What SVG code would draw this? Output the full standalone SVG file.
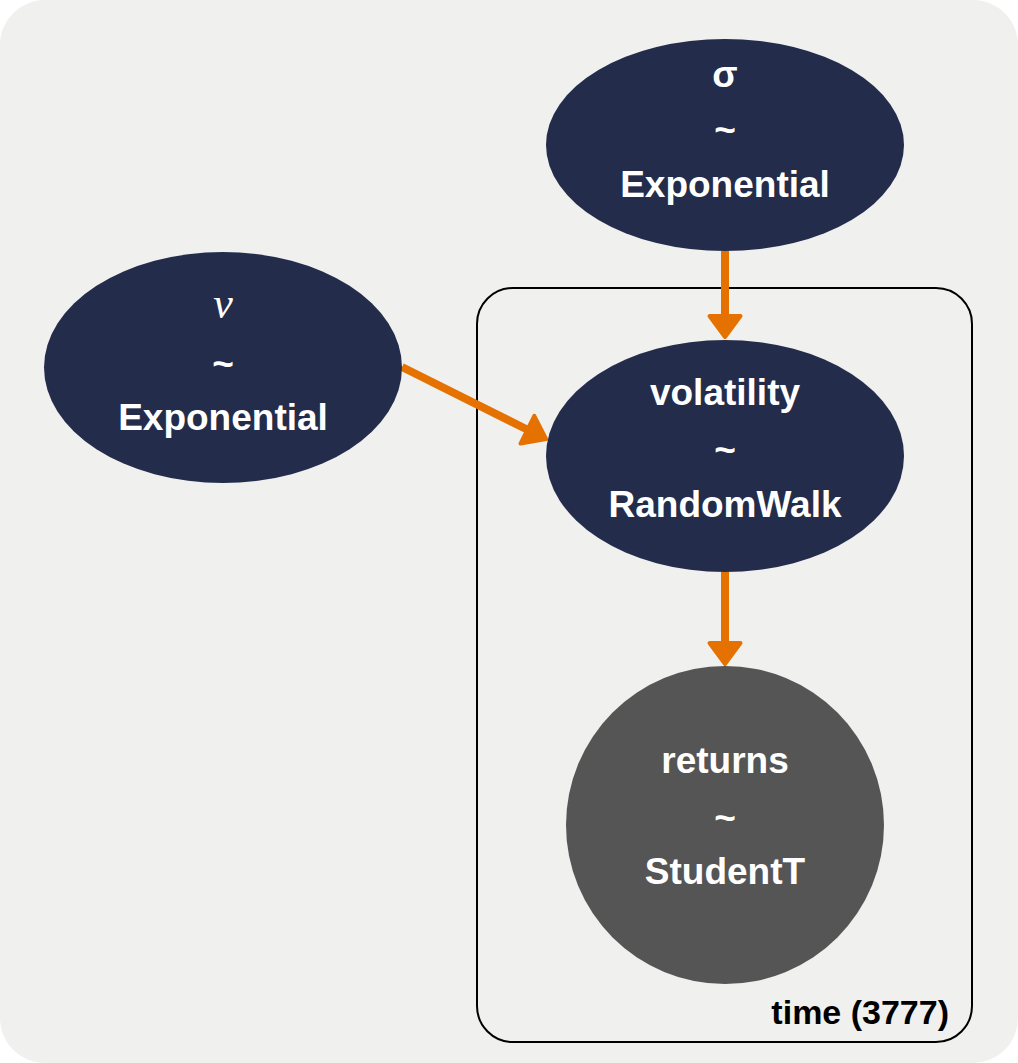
<svg xmlns="http://www.w3.org/2000/svg" width="1018" height="1063" viewBox="0 0 1018 1063">
  <style>
    .bg { fill: #f0f0ee; }
    .rv { fill: #232d4b; }
    .obs { fill: #555555; }
    .plate { fill: none; stroke: #000000; stroke-width: 2; }
    .lbl { font-family: "Liberation Sans", Arial, sans-serif; font-weight: bold; font-size: 37px; fill: #ffffff; text-anchor: middle; }
    .math { font-family: "Liberation Serif", "Times New Roman", serif; font-style: italic; font-weight: normal; font-size: 44px; fill: #ffffff; text-anchor: middle; }
    .plbl { font-family: "Liberation Sans", Arial, sans-serif; font-weight: bold; font-size: 34px; fill: #000000; text-anchor: end; }
    .edge { stroke: #e57200; stroke-width: 8; fill: none; }
    .head { fill: #e57200; stroke: #e57200; stroke-width: 4; stroke-linejoin: round; }
  </style>
  <rect class="bg" x="0" y="0" width="1018" height="1063" rx="45" ry="45"/>

  <g id="plate-time">
    <rect class="plate" x="477" y="288" width="495" height="754" rx="36" ry="36"/>
    <text class="plbl" x="949" y="1024">time (3777)</text>
  </g>

  <g id="connectors">
    <line class="edge" x1="725" y1="251" x2="725" y2="318"/>
    <polygon class="head" points="709.5,316 740.5,316 725,337"/>
    <line class="edge" x1="725" y1="572" x2="725" y2="645"/>
    <polygon class="head" points="709.5,643 740.5,643 725,664"/>
    <line class="edge" x1="402" y1="367" x2="529" y2="430.5"/>
    <polygon class="head" points="520.5,443.6 534.3,415.8 546.2,439.1"/>
  </g>

  <g id="node-sigma">
    <ellipse class="rv" cx="725" cy="145" rx="179" ry="106"/>
    <text class="lbl" x="725" y="87">σ</text>
    <text class="lbl" x="725" y="142">~</text>
    <text class="lbl" x="725" y="197">Exponential</text>
  </g>

  <g id="node-nu">
    <ellipse class="rv" cx="223" cy="367.5" rx="179" ry="115.5"/>
    <text class="math" x="223" y="318">ν</text>
    <text class="lbl" x="223" y="376">~</text>
    <text class="lbl" x="223" y="430">Exponential</text>
  </g>

  <g id="node-volatility">
    <ellipse class="rv" cx="725" cy="456" rx="179" ry="116"/>
    <text class="lbl" x="725" y="405">volatility</text>
    <text class="lbl" x="725" y="462">~</text>
    <text class="lbl" x="725" y="517">RandomWalk</text>
  </g>

  <g id="node-returns">
    <circle class="obs" cx="725" cy="825" r="159"/>
    <text class="lbl" x="725" y="773">returns</text>
    <text class="lbl" x="725" y="830">~</text>
    <text class="lbl" x="725" y="884">StudentT</text>
  </g>
</svg>
